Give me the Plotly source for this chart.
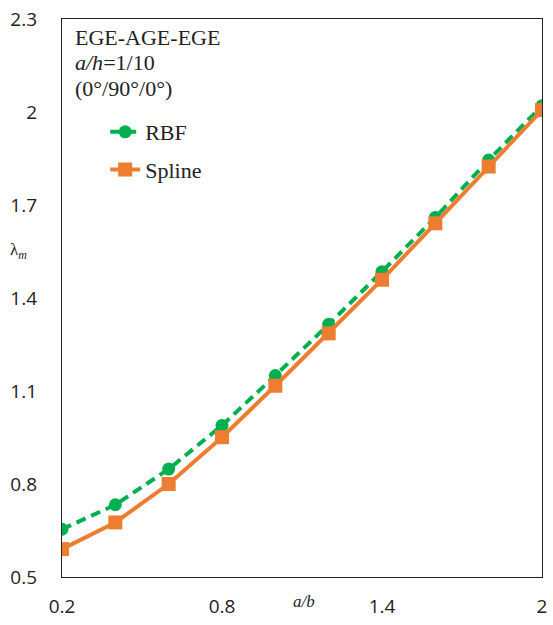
import plotly.graph_objects as go

a_b = [0.2, 0.4, 0.6, 0.8, 1.0, 1.2, 1.4, 1.6, 1.8, 2.0]
rbf = [0.654, 0.733, 0.848, 0.989, 1.150, 1.315, 1.485, 1.660, 1.845, 2.020]
spline = [0.590, 0.676, 0.800, 0.951, 1.117, 1.286, 1.459, 1.641, 1.824, 2.006]

x_ticks = [0.2, 0.8, 1.4, 2.0]
x_tick_labels = ["0.2", "0.8", "1.4", "2"]
y_ticks = [0.5, 0.8, 1.1, 1.4, 1.7, 2.0, 2.3]
y_tick_labels = ["0.5", "0.8", "1.1", "1.4", "1.7", "2", "2.3"]

GREEN = "#00B050"
ORANGE = "#ED7D31"
SERIF = "Liberation Serif, Times New Roman, serif"
SANS = "Open Sans, Carlito, sans-serif"

fig = go.Figure()
fig.add_trace(go.Scatter(
    x=a_b, y=rbf, name="RBF", mode="lines+markers",
    line=dict(color=GREEN, width=4, dash="10px,6px"),
    marker=dict(symbol="circle", size=13, color=GREEN),
    legendgroup="a",
))
fig.add_trace(go.Scatter(
    x=a_b, y=spline, name="Spline", mode="lines+markers",
    line=dict(color=ORANGE, width=4),
    marker=dict(symbol="square", size=14, color=ORANGE),
    legendgroup="b",
))

fig.update_layout(
    width=553, height=625,
    margin=dict(l=62, r=6, t=18, b=44),
    paper_bgcolor="white", plot_bgcolor="white",
    showlegend=True,
    legend=dict(
        x=0.09, y=0.835, xanchor="left", yanchor="top",
        font=dict(family=SERIF, size=22, color="#222"),
        bgcolor="rgba(0,0,0,0)",
        tracegroupgap=6,
        traceorder="grouped",
    ),
    xaxis=dict(
        range=[0.2, 2.0], tickvals=x_ticks, ticktext=x_tick_labels,
        showgrid=False, zeroline=False,
        showline=True, linecolor="#222", linewidth=1.3, mirror=True,
        ticks="", ticklabelstandoff=12,
        tickfont=dict(family=SANS, size=19, color="#222"),
    ),
    yaxis=dict(
        range=[0.5, 2.3], tickvals=y_ticks, ticktext=y_tick_labels,
        showgrid=False, zeroline=False,
        showline=True, linecolor="#222", linewidth=1.3, mirror=True,
        ticks="", ticklabelstandoff=20,
        tickfont=dict(family=SANS, size=19, color="#222"),
    ),
    annotations=[
        dict(text="EGE-AGE-EGE", xref="paper", yref="paper",
             x=0.022, y=0.992, xanchor="left", yanchor="top", showarrow=False,
             font=dict(family=SERIF, size=22, color="#222")),
        dict(text="<i>a/h</i>=1/10", xref="paper", yref="paper",
             x=0.022, y=0.948, xanchor="left", yanchor="top", showarrow=False,
             font=dict(family=SERIF, size=22, color="#222")),
        dict(text="(0°/90°/0°)", xref="paper", yref="paper",
             x=0.022, y=0.902, xanchor="left", yanchor="top", showarrow=False,
             font=dict(family=SERIF, size=22, color="#222")),
        dict(text="λ<sub><i>m</i></sub>", xref="paper", yref="paper",
             x=-0.09, y=0.584, xanchor="center", yanchor="middle", showarrow=False,
             font=dict(family=SERIF, size=17, color="#222")),
        dict(text="<i>a/b</i>", xref="paper", yref="paper",
             x=0.505, y=-0.044, xanchor="center", yanchor="middle", showarrow=False,
             font=dict(family=SERIF, size=17, color="#222")),
    ],
)

fig.write_html("out.html")
